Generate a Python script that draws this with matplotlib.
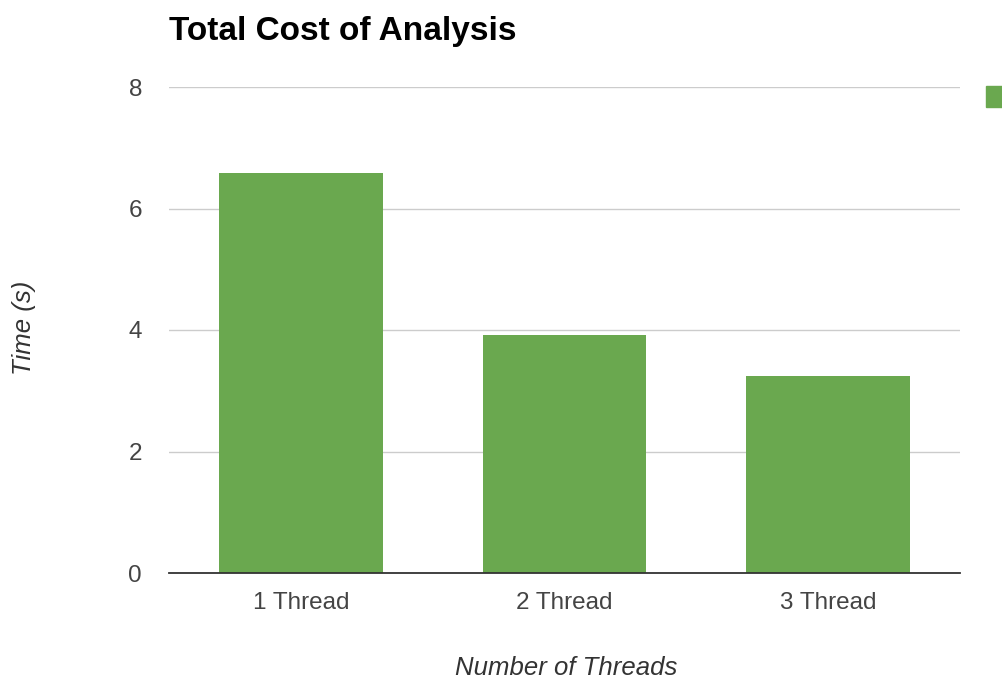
import matplotlib
matplotlib.use("Agg")
import matplotlib.pyplot as plt
from matplotlib.patches import Patch

categories = ["1 Thread", "2 Thread", "3 Thread"]
times = [6.58, 3.91, 3.25]
yticks = [0, 2, 4, 6, 8]

plt.rcParams['font.family'] = ['Liberation Sans', 'DejaVu Sans']

W, H = 1003, 681
fig = plt.figure(figsize=(W/100, H/100), dpi=100)
ax = fig.add_axes([169/W, 1-573/H, (960-169)/W, (573-87)/H])

green = "#6aa84f"
x = range(len(categories))
ax.bar(x, times, width=0.62, color=green, zorder=2)
ax.set_xlim(-0.5, 2.5)
ax.set_ylim(0, 8)
ax.set_yticks(yticks)
ax.set_xticks(list(x))
ax.set_xticklabels(categories)
ax.grid(axis='y', color='#cccccc', linewidth=1, zorder=0)
for s in ['top', 'right', 'left']:
    ax.spines[s].set_visible(False)
ax.spines['bottom'].set_color('#333333')
ax.spines['bottom'].set_linewidth(1.3)
ax.spines['bottom'].set_zorder(3)
ax.tick_params(axis='both', length=0, labelsize=17.5, labelcolor='#444444')
ax.tick_params(axis='y', pad=19.5)
ax.tick_params(axis='x', pad=14)

fig.text(566/W, 1-668/H, "Number of Threads", fontsize=18.5, style='italic',
         color='#333333', ha='center', va='center')
fig.text(24/W, 1-328/H, "Time (s)", fontsize=18.5, style='italic', rotation=90,
         color='#333333', ha='center', va='center')

fig.text(169/W, 1-40/H, "Total Cost of Analysis", fontsize=24, fontweight='bold',
         color='#000000', ha='left', va='baseline')

fig.legend(handles=[Patch(facecolor=green, edgecolor=green)], labels=[""],
           loc='upper left', bbox_to_anchor=(986/W, 1-86/H), frameon=False,
           handlelength=1.3, handleheight=1.3, fontsize=14, borderpad=0, borderaxespad=0)

fig.savefig("out.png", dpi=100)
